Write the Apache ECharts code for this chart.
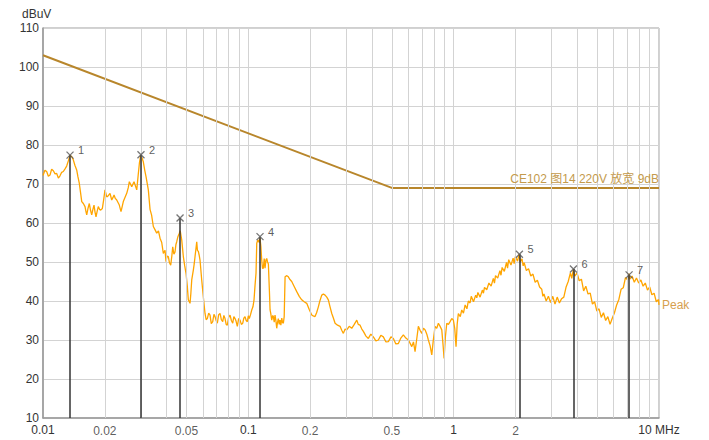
<!DOCTYPE html>
<html><head><meta charset="utf-8">
<script src="https://cdn.jsdelivr.net/npm/echarts@6/dist/echarts.min.js"></script>
<style>html,body{margin:0;padding:0;background:#fff}#c{width:709px;height:440px}</style>
</head><body><div id="c"></div>
<script>
// Peak trace, [frequency MHz, level dBuV]
const peak10kTo30k = [[0.01,72.2],[0.01022,73.5],[0.01042,73.2],[0.01062,72.0],[0.01082,72.3],[0.01102,73.8],[0.01123,73.4],[0.01145,72.6],[0.01166,72.7],[0.01188,71.5],[0.0121,72.1],[0.01233,73.0],[0.01256,73.2],[0.0128,73.9],[0.01304,74.6],[0.0133,76.0],[0.01354,77.4],[0.0138,77.0],[0.01405,76.2],[0.0143,74.8],[0.01459,73.6],[0.0148,71.8],[0.01502,70.2],[0.01522,68.0],[0.01544,65.5],[0.01572,65.0],[0.01602,64.2],[0.01618,63.0],[0.01633,62.1],[0.01657,63.8],[0.01681,65.0],[0.01705,63.2],[0.01727,62.1],[0.0175,63.5],[0.01772,64.6],[0.01792,62.8],[0.01812,61.6],[0.01835,63.0],[0.01859,64.2],[0.01885,63.5],[0.0191,63.3],[0.01945,63.7],[0.01975,66.0],[0.02004,68.5],[0.02043,66.7],[0.0208,67.0],[0.0212,67.6],[0.02161,65.9],[0.0219,66.5],[0.02218,67.2],[0.0225,66.3],[0.02286,65.9],[0.02353,64.6],[0.02398,62.9],[0.0243,64.2],[0.02461,65.5],[0.02557,67.6],[0.026,69.0],[0.02633,70.6],[0.02705,69.3],[0.02775,70.6],[0.02861,68.5],[0.02913,72.7],[0.0295,75.5],[0.02992,77.4]];
const peak30kTo150k = [[0.0303,76.8],[0.0308,75.7],[0.0313,73.5],[0.03175,71.9],[0.03258,68.5],[0.03321,63.5],[0.0338,62.0],[0.03446,59.1],[0.0351,58.3],[0.03579,57.4],[0.0365,58.0],[0.03715,56.1],[0.03786,55.0],[0.03855,52.2],[0.03929,53.0],[0.03973,50.1],[0.0402,51.5],[0.04077,51.4],[0.0413,49.8],[0.04188,49.2],[0.0424,51.5],[0.04283,53.9],[0.0434,52.0],[0.04395,52.6],[0.0444,54.5],[0.0448,55.2],[0.0454,56.5],[0.04613,57.4],[0.0466,58.0],[0.047,56.8],[0.04739,55.6],[0.04825,51.4],[0.049,49.0],[0.04972,47.1],[0.0504,44.0],[0.05102,40.3],[0.052,39.4],[0.0525,42.0],[0.05301,45.4],[0.05397,47.9],[0.0545,49.5],[0.05501,51.4],[0.0556,53.5],[0.05607,55.2],[0.0565,53.0],[0.05708,52.7],[0.0576,51.8],[0.05817,50.5],[0.05929,45.4],[0.06036,41.1],[0.06153,36.8],[0.0623,35.2],[0.06314,35.5],[0.0641,36.9],[0.06508,36.4],[0.066,34.2],[0.06708,34.7],[0.068,36.6],[0.06884,36.0],[0.0697,35.0],[0.07063,34.3],[0.0717,36.5],[0.0728,36.8],[0.0739,35.2],[0.07504,34.7],[0.076,36.3],[0.077,35.5],[0.078,34.0],[0.07901,33.8],[0.0802,35.8],[0.08144,36.4],[0.0827,35.0],[0.08394,34.3],[0.085,36.0],[0.08614,35.5],[0.0872,34.8],[0.08838,33.5],[0.0897,35.5],[0.09111,35.1],[0.0925,34.0],[0.09391,34.3],[0.0951,35.6],[0.09636,36.0],[0.0976,35.0],[0.09888,34.7],[0.1,36.2],[0.1011,35.5],[0.1025,36.5],[0.1039,37.7],[0.1053,38.5],[0.1066,40.3],[0.1078,44.0],[0.109,47.1],[0.1099,54.8],[0.111,55.5],[0.1119,55.6],[0.113,55.0],[0.114,56.1],[0.1151,54.0],[0.1162,50.5],[0.1172,48.4],[0.1183,48.4],[0.1195,50.9],[0.1206,48.4],[0.1218,50.5],[0.1229,50.9],[0.124,50.0],[0.1252,49.5],[0.1266,42.8],[0.1276,37.7],[0.1286,36.8],[0.13,35.1],[0.1315,36.3],[0.1324,36.0],[0.1337,34.6],[0.1349,36.4],[0.1362,35.0],[0.1375,33.0],[0.1385,34.3],[0.14,35.5],[0.1414,34.0],[0.1427,35.1],[0.144,33.8],[0.1455,35.6],[0.1468,34.5],[0.1481,34.3],[0.1495,36.0],[0.151,46.2]];
const peak150kTo1M = [[0.154,46.5],[0.1566,46.2],[0.1595,45.5],[0.1627,45.0],[0.167,43.8],[0.1721,42.4],[0.177,41.2],[0.182,40.3],[0.187,39.8],[0.1925,39.4],[0.198,37.8],[0.2036,36.4],[0.207,36.2],[0.2113,36.0],[0.215,37.0],[0.2193,38.5],[0.223,40.0],[0.2278,41.5],[0.232,41.8],[0.2364,41.5],[0.241,41.0],[0.2453,40.3],[0.25,38.5],[0.2549,36.8],[0.26,35.5],[0.2645,34.3],[0.272,33.8],[0.2797,33.5],[0.285,32.5],[0.2903,31.7],[0.296,32.8],[0.3015,32.6],[0.31,33.5],[0.3189,33.0],[0.328,34.0],[0.3374,35.1],[0.343,34.0],[0.3501,33.8],[0.357,32.8],[0.3633,32.2],[0.374,31.0],[0.3842,30.4],[0.395,31.5],[0.4063,30.8],[0.418,29.8],[0.4297,30.0],[0.442,31.2],[0.4545,30.8],[0.468,29.5],[0.4808,29.6],[0.495,30.8],[0.5085,30.4],[0.523,29.0],[0.5378,29.1],[0.553,30.5],[0.5688,31.3],[0.585,30.5],[0.6016,30.0],[0.613,29.2],[0.6252,28.3],[0.637,29.5],[0.6486,27.0],[0.66,30.0],[0.6731,33.5],[0.686,32.5],[0.6993,31.7],[0.713,33.0],[0.7257,32.6],[0.74,31.5],[0.753,30.0],[0.768,28.5],[0.7823,26.2],[0.796,30.0],[0.8118,33.5],[0.827,33.0],[0.8425,34.3],[0.859,33.5],[0.8752,32.6],[0.887,29.0],[0.8981,25.3],[0.912,31.0],[0.9257,34.3],[0.943,34.0],[0.9605,34.7],[0.979,35.5],[0.9968,35.1],[1.012,33.0],[1.027,28.3],[1.04,34.0]];
const peak1MTo10M = [[1.054,36.8],[1.077,36.0],[1.095,37.7],[1.116,36.9],[1.137,39.0],[1.16,38.0],[1.179,40.0],[1.202,39.5],[1.218,41.2],[1.249,39.8],[1.28,41.5],[1.296,40.8],[1.312,42.2],[1.345,41.0],[1.379,42.8],[1.396,42.0],[1.413,43.5],[1.449,42.9],[1.485,44.6],[1.522,43.8],[1.56,45.8],[1.58,44.6],[1.599,46.5],[1.639,45.9],[1.68,47.8],[1.7,46.6],[1.722,48.6],[1.765,47.6],[1.809,49.9],[1.83,48.4],[1.854,50.6],[1.901,49.2],[1.948,51.0],[1.97,49.6],[1.997,51.4],[2.047,50.2],[2.083,52.0],[2.11,50.0],[2.151,50.8],[2.18,49.0],[2.205,49.8],[2.26,47.8],[2.316,48.3],[2.374,46.4],[2.433,46.9],[2.494,44.8],[2.557,45.3],[2.621,43.6],[2.686,43.0],[2.72,41.2],[2.753,41.8],[2.822,40.0],[2.893,41.2],[2.965,39.6],[3.039,41.2],[3.115,39.2],[3.193,41.0],[3.273,39.5],[3.355,40.6],[3.439,41.0],[3.525,43.5],[3.613,45.0],[3.703,47.2],[3.76,45.8],[3.83,48.2],[3.891,46.4],[3.988,47.2],[4.088,45.2],[4.19,45.6],[4.295,42.6],[4.402,43.8],[4.512,41.8],[4.625,42.0],[4.741,39.2],[4.859,39.8],[4.981,37.4],[5.105,38.0],[5.233,35.8],[5.364,37.0],[5.498,35.0],[5.635,36.0],[5.776,34.0],[5.921,35.6],[6.069,37.0],[6.22,39.0],[6.376,40.4],[6.535,43.0],[6.699,43.4],[6.866,46.0],[7.038,45.4],[7.15,47.0],[7.214,45.6],[7.394,46.4],[7.579,44.8],[7.768,45.9],[7.963,44.6],[8.162,45.4],[8.366,43.8],[8.575,44.6],[8.789,42.8],[9.009,43.6],[9.234,41.6],[9.465,42.0],[9.702,39.8],[9.944,40.4],[10,39.0]];

// Limit line (CE102 图14 220V 放宽 9dB)
const limitFreq = [0.01, 0.5, 10];
const limitLevel = [103, 69, 69];
const limitName = 'CE102 图14 220V 放宽 9dB';

// Markers
const markerFreq = [0.01354, 0.0300, 0.0465, 0.114, 2.09, 3.83, 7.15];
const markerLevel = [77.4, 77.5, 61.3, 56.5, 52.0, 48.2, 46.7];
const markerNames = ['1', '2', '3', '4', '5', '6', '7'];

// Axis ticks
const xExtraTicks = [0.02, 0.05, 0.2, 0.5, 2];
const xMinorGrid = [0.02,0.03,0.04,0.05,0.06,0.07,0.08,0.09,0.2,0.3,0.4,0.5,0.6,0.7,0.8,0.9,2,3,4,5,6,7,8,9];
const yMin = 10, yMax = 110, yStep = 10;

const peakData = [].concat(peak10kTo30k, peak30kTo150k, peak150kTo1M, peak1MTo10M);
const FONT = "'Liberation Sans', Arial, 'Noto Sans CJK SC', sans-serif";
const gridColor = '#d3d3d3';
const lastLimit = limitFreq.length - 1;

const chart = echarts.init(document.getElementById('c'), null, { renderer: 'svg' });
chart.setOption({
  animation: false,
  backgroundColor: '#fff',
  grid: { left: 43, right: 50, top: 28, bottom: 22, show: true, borderColor: '#a0a0a0', borderWidth: 1, backgroundColor: '#fff' },
  graphic: [{ type: 'text', left: 22, top: 8, style: { text: 'dBuV', fontSize: 12, fill: '#333', fontFamily: FONT } }],
  xAxis: {
    type: 'log', logBase: 10, min: 0.01, max: 10,
    axisLine: { show: true, lineStyle: { color: '#999', width: 1.5 } },
    axisTick: { show: false },
    splitLine: { show: true, lineStyle: { color: gridColor, width: 1 } },
    axisLabel: { color: '#333', fontSize: 12, margin: 6, fontFamily: FONT,
      formatter: v => (Math.abs(v - 10) < 1e-6 ? '10 MHz' : String(+(+v).toPrecision(2))) }
  },
  yAxis: {
    type: 'value', min: yMin, max: yMax, interval: yStep,
    axisLine: { show: true, lineStyle: { color: '#999', width: 1.5 } },
    axisTick: { show: false },
    splitLine: { show: true, lineStyle: { color: gridColor, width: 1 } },
    axisLabel: { color: '#333', fontSize: 12, margin: 4, fontFamily: FONT }
  },
  series: [
    { type: 'line', name: 'grid', data: [[0.01, yMin]], symbol: 'none', silent: true, z: 1,
      lineStyle: { width: 0 },
      markLine: { silent: true, symbol: 'none', animation: false, label: { show: false },
        lineStyle: { color: gridColor, width: 1, type: 'solid' },
        data: xMinorGrid.map(f => ({ xAxis: f })) } },
    { type: 'scatter', name: 'ticks', silent: true, symbolSize: 1, z: 1,
      itemStyle: { color: 'rgba(0,0,0,0)' },
      data: xExtraTicks.map(f => [f, yMin]),
      label: { show: true, position: 'bottom', distance: 6, color: '#333', fontSize: 12, fontFamily: FONT,
        formatter: p => String(p.value[0]) } },
    { type: 'line', name: 'Peak', data: peakData, showSymbol: false, symbol: 'none', z: 3,
      lineStyle: { color: '#ffa500', width: 1.3 }, itemStyle: { color: '#ffa500' },
      endLabel: { show: true, formatter: 'Peak', color: '#d6a04e', fontSize: 12, fontFamily: FONT, distance: 3 } },
    { type: 'line', name: 'limit', data: limitFreq.map((f, i) => [f, limitLevel[i]]), symbol: 'none', z: 4,
      lineStyle: { color: '#b8862b', width: 2 },
      markPoint: { silent: true, symbol: 'circle', symbolSize: 0,
        data: [{ coord: [limitFreq[lastLimit], limitLevel[lastLimit]] }],
        label: { show: true, position: 'top', align: 'right', distance: 3, formatter: limitName,
          color: '#c49a4c', fontSize: 12, fontFamily: FONT } } },
    { type: 'scatter', name: 'markers', z: 5,
      symbol: 'path://M0,0L10,10M10,0L0,10', symbolSize: 7,
      itemStyle: { color: 'none', borderColor: '#555', borderWidth: 1.3 },
      data: markerFreq.map((f, i) => ({ value: [f, markerLevel[i]], name: markerNames[i] })),
      label: { show: true, position: 'right', distance: 2, offset: [0, -5], color: '#333', fontSize: 11, fontFamily: FONT,
        formatter: p => p.name },
      markLine: { silent: true, symbol: 'none', label: { show: false },
        lineStyle: { color: '#333', width: 1.5, type: 'solid' },
        data: markerFreq.map((f, i) => [{ coord: [f, yMin] }, { coord: [f, markerLevel[i]] }]) } }
  ]
});
</script></body></html>
